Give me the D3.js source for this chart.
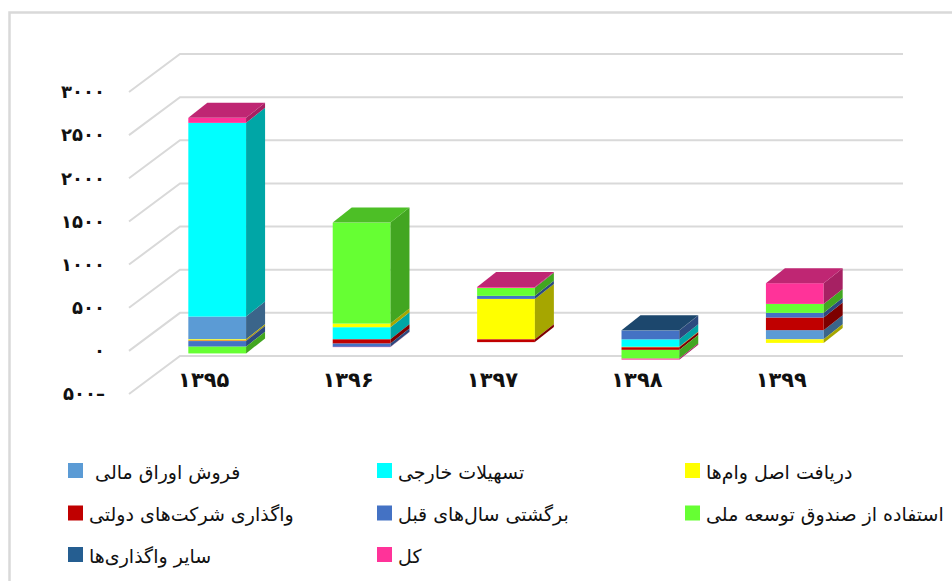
<!DOCTYPE html>
<html>
<head>
<meta charset="utf-8">
<script src="https://cdn.jsdelivr.net/npm/d3@7"></script>
<style>
  html, body { margin: 0; background: #fff; }
  text { font-family: "DejaVu Sans", sans-serif; fill: #111; }
</style>
</head>
<body>
<svg id="chart" width="952" height="581"></svg>
<script>
const years = ["۱۳۹۵", "۱۳۹۶", "۱۳۹۷", "۱۳۹۸", "۱۳۹۹"]
const tickValues = [3000, 2500, 2000, 1500, 1000, 500, 0, -500]
const tickLabels = ["۳۰۰۰", "۲۵۰۰", "۲۰۰۰", "۱۵۰۰", "۱۰۰۰", "۵۰۰", "۰", "۵۰۰–"]

const seriesNames = [
  "فروش اوراق مالی\u00a0",
  "تسهیلات خارجی",
  "دریافت اصل وام‌ها",
  "واگذاری شرکت‌های دولتی",
  "برگشتی سال‌های قبل",
  "استفاده از صندوق توسعه ملی",
  "سایر واگذاری‌ها",
  "کل"
]
const seriesColors = ["#5b9bd5", "#00ffff", "#ffff00", "#c00000", "#4472c4", "#66ff33", "#255e91", "#ff3399"]

// values, one array per series, same order as years
const securities = [264, 0, 0, 0, 107]
const foreignLoans = [2245, 141, 0, -87, 0]
const loanPrincipal = [-15, 42, 469, -5, -41]
const privatization = [-5, -49, -32, -30, 146]
const priorYears = [-65, -38, 35, 102, 54]
const nationalFund = [-78, 1170, 93, -101, 104]
const otherTransfers = [0, 0, 0, 3, 0]
const total = [58, -3, 10, -12, 240]

const seriesValues = [securities, foreignLoans, loanPrincipal, privatization, priorYears, nationalFund, otherTransfers, total]

const svg = d3.select("#chart")

// frame, open at the right and the bottom
svg.append("path")
  .attr("d", "M952,12.5H9.5V581")
  .attr("fill", "none")
  .attr("stroke", "#d9d9d9")
  .attr("stroke-width", 2.5)

// y is the front edge of the 3d box, the walls and bars are offset from it
const y = d3.scaleLinear().domain([-500, 3000]).range([394, 92])
const wallDx = 51, wallDy = -38
const wallRight = 903
const barDx = 19, barDy = -15
const planeDx = 16, planeDy = -11.5

const gridLine = d3.line()
svg.append("g")
  .selectAll("path")
  .data(tickValues)
  .enter().append("path")
  .attr("d", function (d) {
    const yy = y(d)
    return gridLine([[129, yy], [129 + wallDx, yy + wallDy], [wallRight, yy + wallDy]])
  })
  .attr("fill", "none")
  .attr("stroke", "#d9d9d9")
  .attr("stroke-width", 2)

const x = d3.scaleBand()
  .domain(years)
  .range([129 + planeDx, 129 + planeDx + 722])
  .paddingInner(0.6)
  .paddingOuter(0.3)

const rows = years.map(function (year, i) {
  const row = { year: year }
  seriesNames.forEach(function (name, s) { row[s] = seriesValues[s][i] })
  return row
})

const stacked = d3.stack()
  .keys(seriesNames.map(function (d, s) { return s }))
  .offset(d3.stackOffsetDiverging)(rows)

// highest value of each stack, that segment gets the top face
const stackTop = years.map(function (year, i) {
  return d3.max(stacked, function (layer) { return layer[i][1] })
})

function shade(color, k) {
  const c = d3.rgb(color)
  return d3.rgb(c.r * k, c.g * k, c.b * k).formatHex()
}

const barY = function (v) { return y(v) + planeDy }

const bars = svg.append("g")
stacked.forEach(function (layer, s) {
  const color = seriesColors[s]
  layer.forEach(function (seg, i) {
    if (seg[1] === seg[0]) return
    const x0 = x(years[i])
    const x1 = x0 + x.bandwidth()
    const yTop = barY(seg[1])
    const yBottom = barY(seg[0])
    bars.append("rect")
      .attr("x", x0).attr("y", yTop)
      .attr("width", x.bandwidth()).attr("height", yBottom - yTop)
      .attr("fill", color)
    bars.append("path")
      .attr("d", gridLine([[x1, yTop], [x1 + barDx, yTop + barDy], [x1 + barDx, yBottom + barDy], [x1, yBottom]]) + "Z")
      .attr("fill", shade(color, 0.65))
    if (seg[1] === stackTop[i]) {
      bars.append("path")
        .attr("d", gridLine([[x0, yTop], [x0 + barDx, yTop + barDy], [x1 + barDx, yTop + barDy], [x1, yTop]]) + "Z")
        .attr("fill", shade(color, 0.75))
    }
  })
})

const yAxis = d3.axisLeft(y)
  .tickValues(tickValues)
  .tickFormat(function (d, i) { return tickLabels[i] })
  .tickSize(0)
  .tickPadding(0)

svg.append("g")
  .attr("transform", "translate(105,0)")
  .call(yAxis)
  .call(function (g) { g.select(".domain").remove() })
  .selectAll("text")
  .style("font-size", "18px")
  .style("font-weight", "bold")
  .style("direction", "ltr")

const xAxis = d3.axisBottom(x).tickSize(0).tickPadding(0)

svg.append("g")
  .attr("transform", "translate(-13.5,372)")
  .call(xAxis)
  .call(function (g) { g.select(".domain").remove() })
  .selectAll("text")
  .style("font-size", "21px")
  .style("font-weight", "bold")

// legend runs column by column from the left, three per row
const legendX = d3.scaleOrdinal().domain([0, 1, 2]).range([68, 377, 685])
const legendY = d3.scaleOrdinal().domain([0, 1, 2]).range([463, 505.5, 547])

const legend = svg.append("g")
  .selectAll("g")
  .data(seriesNames)
  .enter().append("g")
  .attr("transform", function (d, i) {
    return "translate(" + legendX(i % 3) + "," + legendY(Math.floor(i / 3)) + ")"
  })

legend.append("rect")
  .attr("width", 15)
  .attr("height", 15)
  .attr("fill", function (d, i) { return seriesColors[i] })

legend.append("text")
  .text(function (d) { return d })
  .attr("x", 21)
  .attr("y", 9)
  .attr("dy", "0.35em")
  .attr("direction", "rtl")
  .attr("text-anchor", "end")
  .style("font-size", "19px")
</script>
</body>
</html>
